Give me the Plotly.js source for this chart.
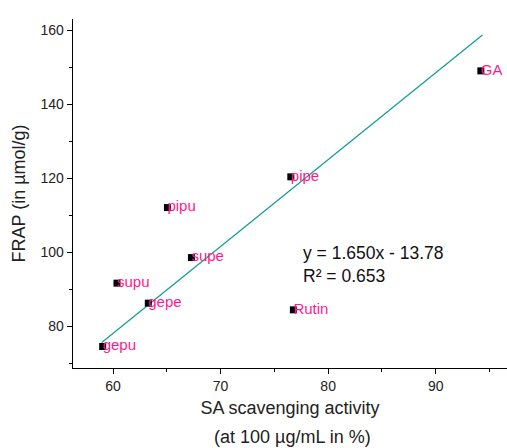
<!DOCTYPE html>
<html>
<head>
<meta charset="utf-8">
<script src="https://cdn.plot.ly/plotly-3.0.1.min.js"></script>
<style>html,body{margin:0;padding:0;background:#fff;}#chart{width:507px;height:448px;}</style>
</head>
<body>
<div id="chart"></div>
<script>
const labels = ["gepu", "gepe", "supu", "supe", "pipu", "pipe", "GA", "Rutin"];
const saActivity = [59.04, 63.28, 60.37, 67.29, 65.06, 76.53, 94.2, 76.77];
const frap = [74.6, 86.3, 91.7, 98.6, 112.1, 120.4, 149.0, 84.5];
const fitX = [58.95, 94.35];
const fitY = [75.7, 158.7];
const equationText = "y = 1.650x - 13.78<br>R² = 0.653";

const font = "Arial, 'Liberation Sans', sans-serif";
const traces = [
  {x: fitX, y: fitY, mode: "lines", line: {color: "#109a9a", width: 1.2}, hoverinfo: "skip", showlegend: false},
  {x: saActivity, y: frap, mode: "markers",
   marker: {symbol: "square", size: 7, color: "#000"}, showlegend: false, cliponaxis: false},
  {x: saActivity, y: frap, mode: "text", text: labels, textposition: "middle right",
   textfont: {family: font, size: 15, color: "#ff1a8c"}, showlegend: false, cliponaxis: false}
];
const plotH = 448 - 19 - 80;
const layout = {
  width: 507, height: 448,
  margin: {l: 73, r: 0, t: 19, b: 80},
  paper_bgcolor: "#fff", plot_bgcolor: "#fff",
  font: {family: font, color: "#222"},
  xaxis: {
    range: [56.28, 96.63], tickvals: [60, 70, 80, 90], showgrid: false, zeroline: false,
    showline: true, linecolor: "#000", linewidth: 1.3, ticks: "outside", ticklen: 5, tickcolor: "#000",
    tickfont: {size: 14, family: font, color: "#222"},
    minor: {tickvals: [65, 75, 85, 95], ticks: "outside", ticklen: 3, tickcolor: "#000", showgrid: false},
    title: {text: "SA scavenging activity", font: {size: 18, family: font, color: "#222"}, standoff: 8}
  },
  yaxis: {
    range: [68.8, 163], tickvals: [80, 100, 120, 140, 160], showgrid: false, zeroline: false,
    showline: true, linecolor: "#000", linewidth: 1.3, ticks: "outside", ticklen: 5, tickcolor: "#000",
    tickfont: {size: 14, family: font, color: "#222"},
    minor: {tickvals: [70, 90, 110, 130, 150], ticks: "outside", ticklen: 3, tickcolor: "#000", showgrid: false},
    title: {text: "FRAP (in µmol/g)", font: {size: 18, family: font, color: "#222"}, standoff: 10}
  },
  annotations: [
    {x: 77.46, y: 96.8, xref: "x", yref: "y", text: equationText, showarrow: false, xanchor: "left", yanchor: "middle", align: "left",
     font: {size: 17.5, family: font, color: "#111"}},
    {x: (292 - 73) / (507 - 73), y: (368 - 437) / plotH, xref: "paper", yref: "paper", text: "(at 100 µg/mL in %)", showarrow: false,
     yanchor: "middle", font: {size: 18, family: font, color: "#222"}}
  ]
};
Plotly.newPlot("chart", traces, layout, {displayModeBar: false, staticPlot: true});
</script>
</body>
</html>
